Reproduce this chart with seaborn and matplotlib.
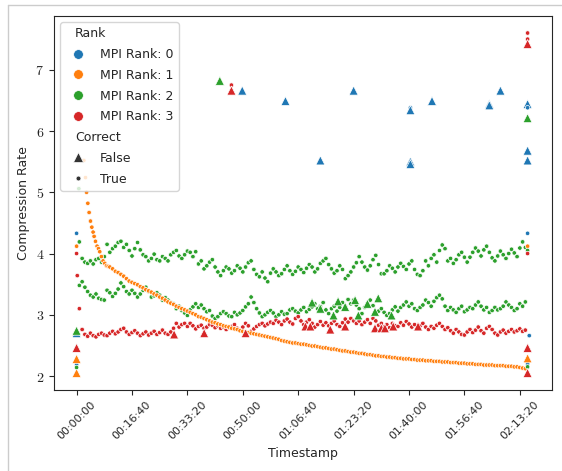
import matplotlib
matplotlib.use('Agg')
import matplotlib.pyplot as plt
import seaborn as sns
import numpy as np
import pandas as pd
from matplotlib.ticker import FuncFormatter, FixedLocator
from matplotlib.lines import Line2D
from seaborn.utils import adjust_legend_subtitles


### Data
############################################################################

ranks = ['MPI Rank: 0', 'MPI Rank: 1', 'MPI Rank: 2', 'MPI Rank: 3']

# regular sampling grid (seconds) of the long series
band_t = list(range(50, 8101, 50))

green_upper = [
	4.19, 3.92, 3.86, 3.84, 3.88, 3.83, 3.90, 3.92, 3.86, 3.95,
	4.15, 4.02, 4.08, 4.12, 4.18, 4.20, 4.10, 4.15, 4.05, 3.96,
	4.08, 4.18, 4.06, 3.98, 3.95, 3.88, 3.92, 3.99, 3.90, 3.88,
	3.95, 3.92, 3.88, 3.98, 4.02, 4.05, 3.96, 3.92, 3.98, 4.04,
	4.02, 3.95, 4.03, 3.83, 3.88, 3.75, 3.80, 3.86, 3.90, 3.78,
	3.70, 3.64, 3.72, 3.78, 3.75, 3.68, 3.72, 3.80, 3.76, 3.70,
	3.78, 3.85, 3.88, 3.74, 3.66, 3.62, 3.70, 3.60, 3.54, 3.68,
	3.75, 3.70, 3.64, 3.67, 3.74, 3.80, 3.72, 3.66, 3.71, 3.78,
	3.74, 3.69, 3.76, 3.82, 3.78, 3.70, 3.75, 3.84, 3.88, 3.92,
	3.82, 3.75, 3.68, 3.72, 3.80, 3.74, 3.59, 3.64, 3.70, 3.78,
	3.85, 3.95, 3.86, 3.78, 3.73, 3.80, 3.90, 3.97, 3.82, 3.67,
	3.67, 3.72, 3.80, 3.76, 3.70, 3.78, 3.84, 3.79, 3.74, 3.83,
	3.88, 3.74, 3.66, 3.64, 3.72, 3.88, 3.80, 3.92, 3.98, 3.86,
	4.05, 4.14, 4.08, 3.88, 3.92, 3.84, 3.90, 3.98, 4.02, 3.94,
	3.86, 3.94, 4.02, 4.09, 4.04, 3.96, 4.06, 4.12, 4.02, 3.93,
	3.88, 3.96, 4.04, 3.98, 3.92, 4.00, 4.07, 4.01, 3.95, 4.09,
	4.19, 4.10]

green_lower = [
	3.48, 3.54, 3.45, 3.38, 3.32, 3.29, 3.34, 3.27, 3.25, 3.24,
	3.40, 3.36, 3.30, 3.35, 3.42, 3.52, 3.46, 3.38, 3.34, 3.40,
	3.35, 3.29, 3.34, 3.40, 3.45, 3.38, 3.29, 3.31, 3.36, 3.32,
	3.24, 3.28, 3.24, 3.20, 3.18, 3.10, 3.14, 3.07, 3.03, 2.99,
	3.08, 3.13, 3.18, 3.12, 3.16, 3.10, 3.05, 3.07, 2.98, 2.94,
	2.97, 3.02, 3.05, 3.02, 2.98, 2.97, 3.04, 3.00, 3.03, 3.07,
	3.13, 3.18, 3.29, 3.20, 3.10, 3.03, 2.97, 3.00, 3.04, 3.07,
	3.03, 2.97, 3.00, 3.05, 3.01, 3.02, 3.08, 3.10, 3.06, 3.03,
	3.08, 3.12, 3.05, 3.09, 3.13, 3.18, 3.10, 3.14, 3.20, 3.08,
	3.02, 3.10, 3.14, 3.06, 3.12, 3.20, 3.14, 3.25, 3.18, 3.24,
	3.16, 3.10, 3.02, 3.12, 3.18, 3.24, 3.15, 3.02, 3.06, 3.10,
	3.04, 2.99, 3.02, 3.08, 3.13, 3.06, 3.12, 3.16, 3.21, 3.14,
	3.18, 3.10, 3.07, 3.12, 3.16, 3.24, 3.20, 3.14, 3.22, 3.28,
	3.32, 3.26, 3.14, 3.07, 3.12, 3.08, 3.04, 3.10, 3.14, 3.05,
	3.08, 3.12, 3.10, 3.16, 3.21, 3.14, 3.08, 3.12, 3.04, 3.07,
	3.12, 3.08, 3.10, 3.14, 3.21, 3.16, 3.12, 3.07, 3.10, 3.18,
	3.14, 3.21]

red_band = [
	3.10, 2.76, 2.68, 2.65, 2.70, 2.66, 2.64, 2.68, 2.70, 2.67,
	2.66, 2.70, 2.73, 2.69, 2.72, 2.76, 2.78, 2.72, 2.68, 2.71,
	2.74, 2.70, 2.66, 2.69, 2.72, 2.67, 2.70, 2.73, 2.68, 2.71,
	2.75, 2.70, 2.68, 2.72, 2.78, 2.86, 2.80, 2.84, 2.86, 2.81,
	2.86, 2.82, 2.77, 2.81, 2.83, 2.78, 2.80, 2.84, 2.83, 2.79,
	2.82, 2.78, 2.80, 2.76, 2.79, 2.81, 2.84, 2.78, 2.75, 2.80,
	2.86, 2.82, 2.73, 2.77, 2.81, 2.84, 2.86, 2.82, 2.85, 2.88,
	2.86, 2.91, 2.88, 2.84, 2.90, 2.93, 2.88, 2.85, 2.94, 2.97,
	2.90, 2.84, 2.88, 2.92, 2.86, 2.80, 2.84, 2.89, 2.83, 2.87,
	2.82, 2.86, 2.90, 2.84, 2.81, 2.87, 2.93, 2.88, 2.94, 2.90,
	2.86, 2.90, 2.84, 2.88, 2.92, 2.86, 2.94, 2.90, 2.83, 2.86,
	2.80, 2.84, 2.79, 2.86, 2.82, 2.81, 2.87, 2.83, 2.89, 2.85,
	2.80, 2.84, 2.78, 2.82, 2.86, 2.80, 2.76, 2.81, 2.78, 2.83,
	2.86, 2.81, 2.76, 2.79, 2.74, 2.70, 2.76, 2.72, 2.68, 2.67,
	2.72, 2.76, 2.71, 2.75, 2.80, 2.74, 2.70, 2.78, 2.81, 2.76,
	2.70, 2.67, 2.72, 2.75, 2.70, 2.73, 2.76, 2.72, 2.74, 2.77,
	2.73, 2.75]

# orange: steep start, then the slow decay sampled on band_t from 600 s
orange_head_t = [131, 161, 180, 203, 226, 251, 275, 298, 316, 341, 370, 395, 418, 448, 478, 509, 539, 570]
orange_head_y = [5.52, 5.24, 5.00, 4.82, 4.67, 4.53, 4.43, 4.35, 4.28, 4.20, 4.12, 4.08, 4.03, 3.95, 3.88, 3.84, 3.80, 3.79]
orange_tail = [
	3.78, 3.75, 3.71, 3.69, 3.66, 3.63, 3.59, 3.55, 3.53, 3.51,
	3.49, 3.46, 3.44, 3.41, 3.39, 3.37, 3.34, 3.32, 3.29, 3.27,
	3.24, 3.21, 3.19, 3.17, 3.14, 3.12, 3.10, 3.08, 3.06, 3.04,
	3.02, 3.00, 2.97, 2.96, 2.94, 2.92, 2.90, 2.88, 2.87, 2.85,
	2.84, 2.82, 2.81, 2.80, 2.78, 2.77, 2.76, 2.74, 2.73, 2.72,
	2.71, 2.70, 2.69, 2.68, 2.67, 2.66, 2.65, 2.64, 2.63, 2.62,
	2.61, 2.60, 2.58, 2.57, 2.56, 2.55, 2.54, 2.54, 2.53, 2.52,
	2.52, 2.51, 2.50, 2.49, 2.49, 2.48, 2.47, 2.46, 2.46, 2.45,
	2.44, 2.44, 2.43, 2.42, 2.41, 2.41, 2.40, 2.39, 2.39, 2.38,
	2.37, 2.37, 2.36, 2.35, 2.35, 2.34, 2.33, 2.33, 2.32, 2.32,
	2.31, 2.31, 2.30, 2.30, 2.29, 2.29, 2.28, 2.28, 2.28, 2.27,
	2.27, 2.26, 2.26, 2.26, 2.25, 2.25, 2.25, 2.24, 2.24, 2.24,
	2.23, 2.23, 2.23, 2.22, 2.22, 2.22, 2.21, 2.21, 2.21, 2.20,
	2.20, 2.20, 2.19, 2.19, 2.19, 2.18, 2.18, 2.18, 2.18, 2.17,
	2.17, 2.17, 2.17, 2.16, 2.16, 2.16, 2.15, 2.15, 2.14, 2.13,
	2.12]

# isolated points: time, rate, rank index, correct
extra_t = [0, 0, 0, 2990, 3770, 4400, 5000, 6025, 6025, 6025, 6025, 6415, 7450, 7450, 7650,
	8140, 8140, 8140, 8140, 8140, 8170, 8140,
	0, 0, 0, 8140, 8140,
	0, 0, 41, 2585, 8140, 8140, 8140,
	4250, 4400, 4637, 4720, 4847, 5027, 5086, 5250, 5386, 5445, 5684,
	0, 12, 0, 2795, 2795, 8140, 8140, 8140, 8140, 8140, 8140,
	1760, 2303, 3051, 4130, 4219, 4578, 4847, 5386, 5500, 5566, 5715, 6163]
extra_y = [4.33, 2.70, 2.19, 6.66, 6.49, 5.52, 6.66, 6.38, 6.34, 5.50, 5.46, 6.49, 6.44, 6.42, 6.66,
	6.44, 6.38, 5.68, 5.52, 4.33, 2.66, 2.20,
	4.12, 2.28, 2.05, 4.12, 2.29,
	2.74, 2.14, 5.06, 6.82, 6.21, 4.05, 2.15,
	3.20, 3.10, 2.99, 3.22, 3.13, 3.24, 2.99, 3.18, 3.05, 3.27, 2.99,
	4.00, 3.64, 2.46, 6.75, 6.66, 7.60, 7.50, 7.42, 4.00, 2.46, 2.05,
	2.68, 2.70, 2.70, 2.81, 2.81, 2.76, 2.81, 2.78, 2.78, 2.78, 2.81, 2.81]
extra_rank = [0]*22 + [1]*5 + [2]*18 + [3]*23
extra_ok = [True, False, True, False, False, False, False, True, False, False, False, False, False, False, False,
	False, True, False, False, True, True, True,
	True, False, False, True, False,
	False, True, True, False, False, True, True,
	False, False, False, False, False, False, False, False, False, False, False,
	True, True, False, True, False, True, True, False, True, False, False,
	False, False, False, False, False, False, False, False, False, False, False, False]


### Build the frame
############################################################################

rows = []
for t, y in zip(band_t, green_upper): rows.append((t, y, ranks[2], True))
for t, y in zip(band_t, green_lower): rows.append((t, y, ranks[2], True))
for t, y in zip(band_t, red_band): rows.append((t, y, ranks[3], True))
for t, y in zip(orange_head_t, orange_head_y): rows.append((t, y, ranks[1], True))
for t, y in zip([t for t in band_t if t >= 600], orange_tail): rows.append((t, y, ranks[1], True))
for t, y, r, ok in zip(extra_t, extra_y, extra_rank, extra_ok): rows.append((t, y, ranks[r], ok))
df = pd.DataFrame(rows, columns=['Timestamp', 'Compression Rate', 'Rank', 'Correct'])


### Plot
############################################################################

sns.set_style('ticks')
plt.rcParams['font.family'] = ['DejaVu Sans']
plt.rcParams['mathtext.fontset'] = 'cm'

fig = plt.figure(figsize=(5.62, 4.71), dpi=100)
ax = fig.add_axes([0.096, 0.172, 0.886, 0.794])

palette = sns.color_palette('tab10', 4)
sns.scatterplot(data=df, x='Timestamp', y='Compression Rate', hue='Rank', hue_order=ranks,
	palette=palette, style='Correct', style_order=[False, True],
	markers={False: '^', True: '.'}, s=42, ax=ax)

def hms(x, pos):
	x = int(round(x))
	return f'{x // 3600:02d}:{(x % 3600) // 60:02d}:{x % 60:02d}'

ax.xaxis.set_major_locator(FixedLocator(np.arange(0, 8001, 1000)))
ax.xaxis.set_major_formatter(FuncFormatter(hms))
ax.yaxis.set_major_formatter(FuncFormatter(lambda v, p: f'${v:.0f}$'))
plt.setp(ax.get_xticklabels(), rotation=45, fontsize=8)
plt.setp(ax.get_yticklabels(), fontsize=10)
ax.set_xlabel('Timestamp', fontsize=9)
ax.set_ylabel('Compression Rate', fontsize=9)
for s in ax.spines.values(): s.set_visible(True)

# legend: circles for the ranks, triangle / dot for the Correct flag
blank = lambda: Line2D([], [], visible=False)
handles = [blank()]
labels = ['Rank']
for c, r in zip(palette, ranks):
	handles.append(Line2D([], [], lw=0, marker='o', markersize=7, color=c, markeredgecolor='w', markeredgewidth=0.5))
	labels.append(r)
handles.append(blank()); labels.append('Correct')
handles.append(Line2D([], [], lw=0, marker='^', markersize=7, color='.2', markeredgecolor='w', markeredgewidth=0.5))
labels.append('False')
handles.append(Line2D([], [], lw=0, marker='.', markersize=7, color='.2', markeredgecolor='w', markeredgewidth=0.5))
labels.append('True')
leg = ax.legend(handles, labels, loc='upper left', fontsize=9, frameon=True, labelspacing=0.62)
adjust_legend_subtitles(leg)

# light frame of the screenshot
fig.add_artist(Line2D([0.0142, 0.0142], [0, 0.99], transform=fig.transFigure, color='#cccccc', lw=1))
fig.add_artist(Line2D([0.0142, 1], [0.99, 0.99], transform=fig.transFigure, color='#cccccc', lw=1))

fig.savefig('out.png', dpi=100)
